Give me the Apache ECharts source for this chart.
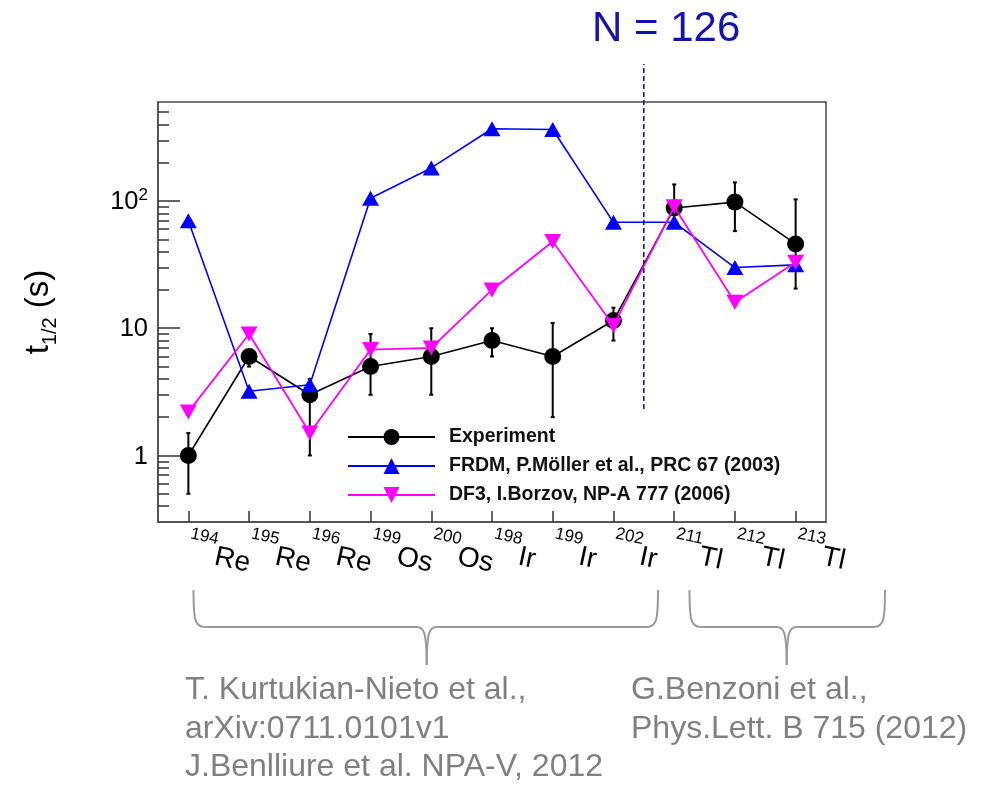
<!DOCTYPE html>
<html>
<head>
<meta charset="utf-8">
<script src="https://cdn.jsdelivr.net/npm/echarts@6/dist/echarts.min.js"></script>
<style>
html,body{margin:0;padding:0;background:#fff;}
#chart{width:983px;height:785px;}
</style>
</head>
<body>
<div id="chart"></div>
<script>
// ---- data ----
const massNumbers = ['194','195','196','199','200','198','199','202','211','212','213'];
const elements    = ['Re','Re','Re','Os','Os','Ir','Ir','Ir','Tl','Tl','Tl'];
const expValues   = [1, 6, 3, 5, 6, 8, 6, 11.5, 88, 98, 46];
const expLow      = [0.5, 5, 1, 3, 3, 6, 2, 8, 62, 58, 20.5];
const expHigh     = [1.5, 6.6, 4, 9, 10, 10, 11, 14.5, 135, 140, 103];
const frdmValues  = [70, 3.2, 3.6, 105, 182, 370, 365, 68, 68, 30, 31.5];
const df3Values   = [2.2, 9, 1.5, 6.8, 7, 20, 48, 10.5, 90, 16, 33];
const yMajorTicks = [1, 10, 100];
const yMinorTicks = [0.4,0.5,0.6,0.7,0.8,0.9,2,3,4,5,6,7,8,9,20,30,40,50,60,70,80,90,200,300,400,500];
const shellBoundary = 7.5; // between 202Ir and 211Tl (N = 126)
const legendNames = ['Experiment', 'FRDM, P.Möller et al., PRC 67 (2003)', 'DF3, I.Borzov, NP-A 777 (2006)'];

const FONT = '"Liberation Sans", Arial, Helvetica, sans-serif';
const categories = massNumbers.map((m, i) => m + elements[i]);
const errData = expValues.map((v, i) => [i, expLow[i], expHigh[i]]);

const chart = echarts.init(document.getElementById('chart'), null, {renderer: 'canvas'});

const grayText = '#808080';
const braceColor = '#9a9a9a';

// curly brace decoration built from lines and bezier curves
function brace(xl, xr, xc, yTop, yMid, yBot) {
  const st = {fill: 'none', stroke: braceColor, lineWidth: 2};
  const mk = (type, shape) => ({type, shape, style: st, silent: true});
  return [
    mk('bezierCurve', {x1: xl, y1: yTop, cpx1: xl, cpy1: yMid - 7, cpx2: xl + 1.5, cpy2: yMid, x2: xl + 11, y2: yMid}),
    mk('line', {x1: xl + 11, y1: yMid, x2: xc - 9.5, y2: yMid}),
    mk('bezierCurve', {x1: xc - 9.5, y1: yMid, cpx1: xc - 2.5, cpy1: yMid, cpx2: xc - 0.2, cpy2: yMid + 6, x2: xc, y2: yBot}),
    mk('bezierCurve', {x1: xc, y1: yBot, cpx1: xc + 0.2, cpy1: yMid + 6, cpx2: xc + 2.5, cpy2: yMid, x2: xc + 9.5, y2: yMid}),
    mk('line', {x1: xc + 9.5, y1: yMid, x2: xr - 11, y2: yMid}),
    mk('bezierCurve', {x1: xr - 11, y1: yMid, cpx1: xr - 1.5, cpy1: yMid, cpx2: xr, cpy2: yMid - 7, x2: xr, y2: yTop})
  ];
}

const option = {
  backgroundColor: '#ffffff',
  animation: false,
  title: {
    text: 'N = 126',
    left: 587, top: 3,
    textStyle: {fontFamily: FONT, fontSize: 42, fontWeight: 'normal', color: '#1212b0'}
  },
  legend: {
    orient: 'vertical',
    left: 342, top: 422,
    itemWidth: 87, itemHeight: 20, itemGap: 9,
    data: legendNames,
    textStyle: {fontFamily: FONT, fontSize: 19.5, fontWeight: 'bold', color: '#111', padding: [0,0,0,9]}
  },
  grid: [
    {left: 158, right: 157, top: 102, bottom: 263, show: true, borderColor: '#4a4a4a', borderWidth: 1.5, containLabel: false},
    {left: 158, right: 157, top: 64, bottom: 376, show: false, containLabel: false}
  ],
  xAxis: [
    {
      type: 'category', gridIndex: 0, data: categories, boundaryGap: true,
      axisLine: {lineStyle: {color: '#4a4a4a', width: 1.5}},
      axisTick: {show: true, inside: true, alignWithLabel: true, length: 11, lineStyle: {color: '#333', width: 1.5}},
      axisLabel: {
        interval: 0, rotate: -12, margin: 23,
        formatter: function (v, idx) { return '{sup|' + massNumbers[idx] + '}{el|' + elements[idx] + '}'; },
        rich: {
          sup: {fontFamily: FONT, fontSize: 17, color: '#000', verticalAlign: 'top', lineHeight: 17},
          el: {fontFamily: FONT, fontSize: 28, color: '#000', verticalAlign: 'bottom', lineHeight: 40}
        }
      },
      splitLine: {show: false}
    },
    {type: 'value', gridIndex: 1, min: -0.5, max: 10.5, show: false}
  ],
  yAxis: [
    {
      type: 'log', logBase: 10, gridIndex: 0, min: 0.3, max: 600, position: 'left',
      name: '{t|t}{sub|1/2}{t| (s)}',
      nameLocation: 'middle', nameGap: 98, nameRotate: 90,
      nameTextStyle: {
        rich: {
          t: {fontFamily: FONT, fontSize: 33, color: '#000', verticalAlign: 'top', lineHeight: 38},
          sub: {fontFamily: FONT, fontSize: 20, color: '#000', verticalAlign: 'bottom', lineHeight: 20}
        }
      },
      axisLine: {show: true, lineStyle: {color: '#4a4a4a', width: 1.5}},
      axisTick: {show: true, inside: true, length: 22, customValues: yMajorTicks, lineStyle: {color: '#333', width: 1.5}},
      axisLabel: {
        customValues: yMajorTicks, margin: 10,
        formatter: function (v) { return v >= 99 && v <= 101 ? '{b|10}{sup|2}' : '{b|' + Math.round(v) + '}'; },
        rich: {
          b: {fontFamily: FONT, fontSize: 25.5, color: '#000', verticalAlign: 'bottom', lineHeight: 28},
          sup: {fontFamily: FONT, fontSize: 17, color: '#000', verticalAlign: 'top', lineHeight: 17}
        },
        fontFamily: FONT, fontSize: 25.5, color: '#000'
      },
      splitLine: {show: false}
    },
    {
      type: 'log', logBase: 10, gridIndex: 0, min: 0.3, max: 600, position: 'left', offset: 0,
      axisLine: {show: false},
      axisTick: {show: true, inside: true, length: 11, customValues: yMinorTicks, lineStyle: {color: '#333', width: 1.5}},
      axisLabel: {show: false},
      splitLine: {show: false}
    },
    {type: 'value', gridIndex: 1, min: 0, max: 1, show: false}
  ],
  series: [
    {
      name: 'errors', type: 'custom', xAxisIndex: 0, yAxisIndex: 0, z: 2,
      data: errData,
      encode: {x: 0, y: [1, 2]},
      renderItem: function (params, api) {
        const top = api.coord([api.value(0), api.value(2)]);
        const bot = api.coord([api.value(0), api.value(1)]);
        const st = {stroke: '#000', lineWidth: 2};
        return {type: 'group', children: [
          {type: 'line', shape: {x1: top[0], y1: top[1], x2: bot[0], y2: bot[1]}, style: st},
          {type: 'line', shape: {x1: top[0]-2, y1: top[1], x2: top[0]+2, y2: top[1]}, style: st},
          {type: 'line', shape: {x1: bot[0]-2, y1: bot[1], x2: bot[0]+2, y2: bot[1]}, style: st}
        ]};
      }
    },
    {
      name: legendNames[0], type: 'line', xAxisIndex: 0, yAxisIndex: 0, z: 3,
      data: expValues, symbol: 'circle', symbolSize: 17,
      lineStyle: {color: '#000', width: 1.6}, itemStyle: {color: '#000'}
    },
    {
      name: legendNames[1], type: 'line', xAxisIndex: 0, yAxisIndex: 0, z: 4,
      data: frdmValues, symbol: 'triangle', symbolSize: [17, 15],
      lineStyle: {color: '#0000ff', width: 1.6}, itemStyle: {color: '#0000ff'}
    },
    {
      name: legendNames[2], type: 'line', xAxisIndex: 0, yAxisIndex: 0, z: 5,
      data: df3Values, symbol: 'path://M0,0 L16,0 L8,14 Z', symbolSize: [17, 15],
      lineStyle: {color: '#ff00ff', width: 1.8}, itemStyle: {color: '#ff00ff'}
    },
    {
      name: 'N126', type: 'line', xAxisIndex: 1, yAxisIndex: 2, z: 1,
      data: [[shellBoundary, 0], [shellBoundary, 1]], symbol: 'none', silent: true,
      lineStyle: {color: '#1010cc', width: 1.6, type: [5, 3]}
    }
  ],
  graphic: [].concat(
    brace(193.5, 658, 426.7, 590, 627, 665),
    brace(689.5, 885, 786.7, 590, 627, 665),
    [
      {
        type: 'text', left: 185, top: 671, silent: true,
        style: {text: 'T. Kurtukian-Nieto et al.,\narXiv:0711.0101v1\nJ.Benlliure et al. NPA-V, 2012', font: '32px ' + FONT, fill: grayText, lineHeight: 38.5}
      },
      {
        type: 'text', left: 631, top: 671, silent: true,
        style: {text: 'G.Benzoni et al.,\nPhys.Lett. B 715 (2012)', font: '32px ' + FONT, fill: grayText, lineHeight: 38.5}
      }
    ]
  )
};
chart.setOption(option);
</script>
</body>
</html>
